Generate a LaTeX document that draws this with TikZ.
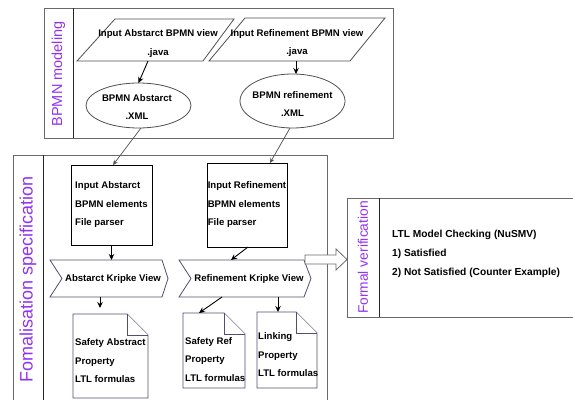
\documentclass[tikz,border=0pt]{standalone}
\usepackage{fontspec}
\setmainfont{Liberation Sans}
\usetikzlibrary{arrows.meta,calc}
\definecolor{lblc}{RGB}{145,50,245}
\definecolor{poolc}{RGB}{105,105,105}
\definecolor{kc}{RGB}{85,75,115}
\definecolor{parc}{RGB}{80,80,80}
\begin{document}
\begin{tikzpicture}[x=1pt,y=-1pt,
  every node/.style={font=\fontsize{9.6}{18.5}\selectfont\bfseries},
  shapebox/.style 2 args={minimum width=#1, minimum height=#2, inner sep=0pt, outer sep=0pt},
  pool/.style={draw=poolc, line width=0.8pt},
  divider/.style={draw=black!85, line width=0.9pt},
  poollabel/.style={rotate=90, text=lblc, inner sep=0pt},
  shapeline/.style={draw=parc, line width=0.8pt, fill=white},
  kline/.style={draw=kc, line width=0.8pt, fill=white},
  arr/.style={draw=black, line width=0.9pt, -{Stealth[length=6pt,width=5.5pt]}},
  garr/.style={draw=parc, line width=0.7pt, -{Stealth[length=5pt,width=4.5pt]}},
  bigarr/.style={draw=poolc, line width=0.8pt, fill=white}
]
\useasboundingbox (0,0) rectangle (573,399);
\fill[white] (0,0) rectangle (573,399);

% ---------- pools ----------
\node[shapebox={349}{130}, pool] (pool1) at (218.5,73) {};
\draw[divider] ([xshift=29pt]pool1.north west) -- ([xshift=29pt]pool1.south west);
\node[poollabel, font=\fontsize{14.5}{16}\selectfont] (lab1) at (58.5,74) {BPMN modeling};

\node[shapebox={314}{248}, pool] (pool2) at (170,279) {};
\draw[divider] ([xshift=30pt]pool2.north west) -- ([xshift=30pt]pool2.south west);
\node[poollabel, font=\fontsize{18}{20}\selectfont] (lab2) at (28,279) {Fomalisation specification};

\node[shapebox={228}{119}, pool] (pool3) at (461,257.5) {};
\draw[divider] ([xshift=32pt]pool3.north west) -- ([xshift=32pt]pool3.south west);
\node[poollabel, font=\fontsize{13.8}{16}\selectfont] (lab3) at (363,257.5) {Formal verification};

% ---------- BPMN modeling ----------
\node[shapebox={157}{42}] (par1) at (155.5,40) {};
\draw[shapeline] ([xshift=38pt]par1.north west) -- (par1.north east) -- ([xshift=-31pt]par1.south east) -- (par1.south west) -- cycle;
\node[align=center, inner sep=0pt] (par1t) at (158,43.5) {Input Abstarct BPMN view\\.java};

\node[shapebox={176}{43}] (par2) at (297,39.5) {};
\draw[shapeline] ([xshift=36pt]par2.north west) -- (par2.north east) -- ([xshift=-35pt]par2.south east) -- (par2.south west) -- cycle;
\node[align=center, inner sep=0pt] (par2t) at (297,43) {Input Refinement BPMN view\\.java};

\node[shapebox={105}{45}] (e1) at (138.5,105.5) {};
\draw[shapeline] (e1.center) ellipse [x radius=52.5pt, y radius=22.5pt];
\node[align=center, inner sep=0pt] (e1t) at (137,107) {BPMN Abstarct\\.XML};

\node[shapebox={105}{54}] (e2) at (292.5,101) {};
\draw[shapeline] (e2.center) ellipse [x radius=52.5pt, y radius=27pt];
\node[align=center, inner sep=0pt] (e2t) at (292.5,104) {BPMN refinement\\.XML};

\draw[arr] ([xshift=-7.5pt]par1.south) -- (e1.north);
\draw[arr] ([xshift=-1pt]par2.south) -- ([xshift=3.5pt]e2.north);

% ---------- Formalisation ----------
\node[shapebox={81}{80}, draw=black, line width=0.8pt, align=left] (b1) at (111.5,205) {Input Abstarct\\BPMN elements\\File parser};
\node[shapebox={80}{84}, draw=black, line width=0.8pt, align=left] (b2) at (247,205) {Input Refinement\\BPMN elements\\File parser};

\draw[garr] ([xshift=2.5pt]e1.south) -- ([xshift=1.5pt]b1.north);
\draw[garr] ([xshift=-2.5pt]e2.south) -- ([xshift=23pt]b2.north);

\node[shapebox={118}{37}] (k1) at (109,278.5) {};
\draw[kline] (k1.north west) -- ([xshift=-6pt]k1.north east) -- (k1.east) -- ([xshift=-6pt]k1.south east) -- (k1.south west) -- ([xshift=12pt]k1.west) -- cycle;
\node[inner sep=0pt] (k1t) at (113,279) {Abstarct Kripke View};

\node[shapebox={132}{37}] (k2) at (245,278.5) {};
\draw[kline] (k2.north west) -- ([xshift=-7pt]k2.north east) -- (k2.east) -- ([xshift=-7pt]k2.south east) -- (k2.south west) -- ([xshift=12pt]k2.west) -- cycle;
\node[inner sep=0pt] (k2t) at (249,279) {Refinement Kripke View};

\draw[arr] (b1.south) -- ([xshift=2.5pt]k1.north);
\draw[arr] ([xshift=1pt]b2.south) -- ([xshift=-14pt]k2.north);

% documents
\node[shapebox={75}{84}] (d1) at (110.5,356) {};
\draw[kline] (d1.north west) -- ([xshift=-21pt]d1.north east) -- ([yshift=-21pt]d1.north east) -- (d1.south east) -- (d1.south west) -- cycle;
\draw[kline] ([xshift=-21pt]d1.north east) -- ([xshift=-21pt,yshift=-21pt]d1.north east) -- ([yshift=-21pt]d1.north east);
\node[align=left, inner sep=0pt, anchor=west] (d1t) at (75,361) {Safety Abstract\\Property\\LTL formulas};

\node[shapebox={62}{75}] (d2) at (214,350.5) {};
\draw[kline] (d2.north west) -- ([xshift=-21pt]d2.north east) -- ([yshift=-21pt]d2.north east) -- (d2.south east) -- (d2.south west) -- cycle;
\draw[kline] ([xshift=-21pt]d2.north east) -- ([xshift=-21pt,yshift=-21pt]d2.north east) -- ([yshift=-21pt]d2.north east);
\node[align=left, inner sep=0pt, anchor=west] (d2t) at (185,359.5) {Safety Ref\\Property\\LTL formulas};

\node[shapebox={60}{76}] (d3) at (287,350) {};
\draw[kline] (d3.north west) -- ([xshift=-21pt]d3.north east) -- ([yshift=-21pt]d3.north east) -- (d3.south east) -- (d3.south west) -- cycle;
\draw[kline] ([xshift=-21pt]d3.north east) -- ([xshift=-21pt,yshift=-21pt]d3.north east) -- ([yshift=-21pt]d3.north east);
\node[align=left, inner sep=0pt, anchor=west] (d3t) at (258,355) {Linking\\Property\\LTL formulas};

\draw[arr, shorten >=6pt] ([xshift=-9pt]k1.south) -- ([xshift=-10.5pt]d1.north);
\draw[arr] ([xshift=-23pt]k2.south) -- ([xshift=-15pt]d2.north);
\draw[arr] ([xshift=33pt]k2.south) -- ([xshift=-9pt]d3.north);

% ---------- big hollow arrow ----------
\coordinate (ha) at (305,259.5);
\draw[bigarr] ($(ha)+(0,-4.5)$) -- ($(ha)+(31,-4.5)$) -- ($(ha)+(31,-10.5)$) -- (pool3.west |- ha) -- ($(ha)+(31,10.5)$) -- ($(ha)+(31,4.5)$) -- ($(ha)+(0,4.5)$) -- cycle;

% ---------- Formal verification ----------
\node[align=left, inner sep=0pt, anchor=west, font=\fontsize{10.2}{19}\selectfont\bfseries] (ver) at (392,254) {LTL Model Checking (NuSMV)\\1) Satisfied\\2) Not Satisfied (Counter Example)};
\end{tikzpicture}
\end{document}
